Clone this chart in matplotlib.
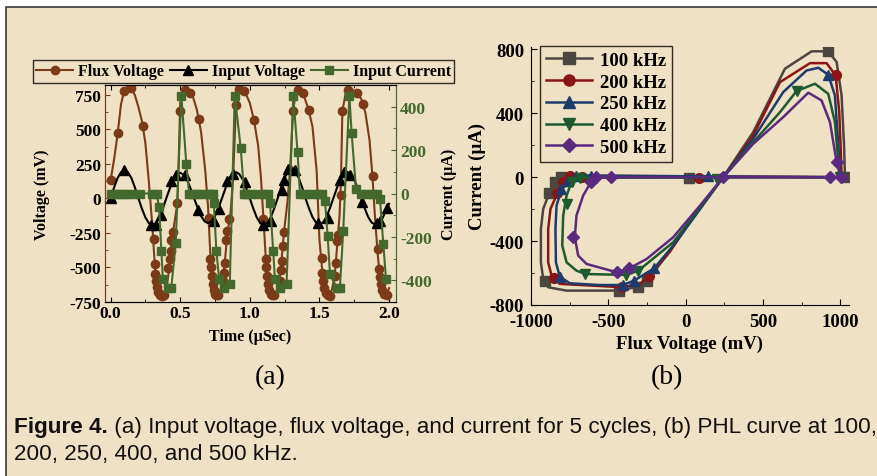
import matplotlib

matplotlib.use("Agg")
import matplotlib.pyplot as plt
from matplotlib.lines import Line2D
from matplotlib.patches import Rectangle
from matplotlib.ticker import AutoMinorLocator

plt.rcParams["axes.unicode_minus"] = False
plt.rcParams["font.family"] = ["Liberation Serif", "DejaVu Serif"]
plt.rcParams["font.weight"] = "bold"

# ---------------- panel (a): time traces ----------------
flux_line_t = [0.000, 0.025, 0.050, 0.075, 0.100, 0.125, 0.150, 0.175, 0.200, 0.225,
               0.250, 0.275, 0.300, 0.320, 0.340, 0.360, 0.380, 0.400, 0.420, 0.440,
               0.460, 0.480, 0.490, 0.500, 0.515, 0.535, 0.560, 0.590, 0.620, 0.650,
               0.680, 0.700, 0.720, 0.740, 0.760, 0.780, 0.800, 0.820, 0.840, 0.860,
               0.880, 0.900, 0.920, 0.945, 0.970, 1.000, 1.030, 1.060, 1.080, 1.100,
               1.120, 1.140, 1.160, 1.180, 1.200, 1.220, 1.245, 1.270, 1.290, 1.310,
               1.330, 1.350, 1.380, 1.420, 1.450, 1.480, 1.500, 1.520, 1.545, 1.570,
               1.590, 1.610, 1.630, 1.645, 1.655, 1.665, 1.690, 1.720, 1.760, 1.800,
               1.830, 1.860, 1.880, 1.900, 1.920, 1.940, 1.960, 1.980, 2.000]
flux_line_v = [130, 280, 460, 680, 790, 810, 800, 745, 660, 560,
               400, 120, -200, -520, -670, -705, -700, -660, -520, -290,
               -170, -31, 300, 690, 770, 790, 775, 740, 640, 480,
               200, -60, -480, -665, -705, -695, -620, -470, -240, -130,
               150, 650, 785, 795, 760, 690, 566, 380, 150, -180,
               -520, -670, -705, -700, -650, -540, -246, -30, 220, 620,
               770, 790, 765, 650, 520, 200, -300, -520, -685, -705,
               -660, -560, -310, -120, 150, 630, 770, 795, 770, 720,
               620, 420, 170, -150, -420, -620, -690, -705, -650]
flux_mark_t = [0.000, 0.053, 0.094, 0.149, 0.233, 0.309, 0.317, 0.322, 0.327, 0.333,
               0.342, 0.355, 0.368, 0.382, 0.412, 0.424, 0.432, 0.436, 0.448, 0.480,
               0.496, 0.532, 0.573, 0.633, 0.705, 0.717, 0.722, 0.727, 0.733, 0.740,
               0.748, 0.760, 0.772, 0.808, 0.815, 0.824, 0.832, 0.839, 0.851, 0.904,
               0.921, 0.959, 1.031, 1.096, 1.113, 1.118, 1.125, 1.132, 1.140, 1.149,
               1.162, 1.175, 1.215, 1.225, 1.232, 1.240, 1.245, 1.288, 1.312, 1.343,
               1.384, 1.424, 1.516, 1.521, 1.528, 1.535, 1.547, 1.560, 1.576, 1.610,
               1.618, 1.628, 1.635, 1.652, 1.664, 1.707, 1.767, 1.815, 1.882, 1.918,
               1.925, 1.932, 1.940, 1.950, 1.964, 1.985]
flux_mark_v = [130, 470, 776, 800, 521, -294, -473, -549, -600, -640,
               -675, -700, -705, -700, -502, -442, -382, -300, -246, -31,
               633, 781, 760, 573, -143, -442, -500, -560, -620, -660,
               -693, -700, -700, -600, -540, -470, -300, -239, -150, 676,
               788, 776, 566, -150, -442, -500, -560, -620, -660, -693,
               -700, -700, -600, -520, -450, -346, -246, 203, 633, 783,
               760, 638, -435, -537, -600, -650, -688, -700, -705, -560,
               -470, -310, -263, 24, 633, 783, 760, 681, 162, -370,
               -513, -569, -620, -660, -693, -700]

vin_line_t = [i * 0.025 for i in range(81)]
vin_line_v = [0, 78, 146, 189, 205, 189, 146, 78, 0,
              -75, -138, -180, -195, -180, -138, -75, 0,
              70, 131, 170, 185, 170, 131, 70, 0,
              -68, -128, -166, -180, -166, -128, -68, 0,
              72, 135, 175, 190, 175, 135, 72, 0,
              -74, -138, -180, -195, -180, -138, -74, 0,
              81, 150, 195, 212, 195, 150, 81, 0,
              -72, -135, -175, -190, -175, -135, -72, 0,
              73, 136, 177, 192, 177, 136, 73, 0,
              -72, -135, -175, -190, -180, -150, -95, -40]
vin_mark_t = [0.000, 0.094, 0.293, 0.329, 0.360, 0.436, 0.472, 0.532, 0.628, 0.741,
              0.779, 0.839, 0.880, 0.964, 1.096, 1.149, 1.228, 1.247, 1.276, 1.324,
              1.492, 1.564, 1.647, 1.679, 1.720, 1.803, 1.916, 1.935, 1.983]
vin_mark_v = [0, 203, -191, -196, -119, 124, 172, 167, -84, -167,
              -76, 124, 179, 119, -191, -167, 60, 131, 215, 208,
              -179, -143, 131, 191, 167, -24, -179, -167, -67]

cur_t = [0.000, 0.030, 0.060, 0.090, 0.120, 0.160, 0.210, 0.300, 0.330, 0.348,
         0.365, 0.376, 0.412, 0.436, 0.468, 0.508, 0.544, 0.564, 0.590, 0.620,
         0.650, 0.700, 0.720, 0.735, 0.741, 0.760, 0.779, 0.813, 0.856, 0.892,
         0.935, 0.959, 0.975, 1.010, 1.060, 1.100, 1.130, 1.145, 1.168, 1.180,
         1.216, 1.264, 1.312, 1.343, 1.360, 1.395, 1.440, 1.490, 1.520, 1.540,
         1.559, 1.576, 1.624, 1.647, 1.671, 1.715, 1.731, 1.763, 1.800, 1.840,
         1.875, 1.910, 1.935, 1.959, 1.978]
cur_i = [0, 0, 0, 0, 0, 0, 0, 0, 0, -60,
         -265, -395, -434, -434, -229, 451, 138, 0, 0, 0,
         0, 0, 0, 0, -42, -265, -392, -434, -418, 451,
         209, 0, 0, 0, 0, 0, 0, -42, -265, -392,
         -434, -418, 451, 189, 0, 0, 0, 0, 0, -34,
         -195, -372, -434, -434, -172, 451, 281, 20, 0, 0,
         0, 0, -26, -234, -392]

# ---------------- panel (b): PHL loops ----------------
f100_line_v = [1029, -803, -846, -882, -921, -936, -936, -921, -889, -770, -430, -307,
               -253, -124, 48, 242, 436, 641, 814, 921, 975, 1007, 1023, 1029]
f100_line_i = [0, 4, -31, -100, -198, -324, -533, -637, -689, -710, -710, -685,
               -652, -491, -240, 0, 282, 679, 788, 788, 721, 512, 198, 0]
f100_mark_v = [921, 1035, 18, -803, -846, -882, -910, -430, -307, -253]
f100_mark_i = [788, 0, -6, 4, -31, -100, -652, -710, -685, -652]

f200_line_v = [1007, -749, -792, -829, -874, -889, -889, -867, -814, -598, -411, -296,
               -236, -102, 48, 242, 436, 609, 803, 910, 969, 992, 1003, 1007]
f200_line_i = [0, 10, -27, -100, -198, -324, -533, -616, -668, -679, -689, -668,
               -616, -466, -251, 0, 261, 595, 714, 714, 637, 407, 136, 0]
f200_mark_v = [969, 87, -669, -749, -792, -829, -850, -411, -236]
f200_mark_i = [637, -4, 4, 10, -27, -100, -633, -689, -616]

f250_line_v = [997, -706, -760, -803, -835, -842, -839, -814, -749, -555, -408, -335,
               -204, -81, 70, 242, 436, 630, 781, 857, 921, 964, 986, 997]
f250_line_i = [0, 10, -21, -77, -178, -324, -533, -623, -664, -675, -675, -648,
               -570, -428, -230, 0, 240, 533, 668, 685, 641, 512, 198, 0]
f250_mark_v = [921, 145, -613, -706, -760, -803, -814, -408, -335, -204]
f250_mark_i = [641, 10, 10, 10, -21, -77, -623, -675, -648, -570]

f400_line_v = [992, -684, -738, -770, -792, -798, -770, -706, -648, -383, -307, -253,
               -81, 70, 242, 436, 609, 716, 835, 921, 964, 986, 992]
f400_line_i = [0, -4, -31, -115, -240, -428, -533, -585, -606, -612, -585, -543,
               -407, -219, 0, 219, 407, 539, 585, 522, 345, 94, 0]
f400_mark_v = [716, 997, 199, -684, -738, -770, -648, -383, -307]
f400_mark_i = [539, 0, -10, -4, -31, -167, -606, -612, -585]

f500_line_v = [1003, -484, -577, -613, -663, -706, -717, -695, -641, -447, -365, -253,
               -81, 92, 242, 436, 630, 792, 878, 932, 975, 1003]
f500_line_i = [0, 0, 0, -31, -115, -240, -376, -491, -543, -595, -570, -512,
               -376, -178, 0, 209, 376, 529, 480, 345, 94, 0]
f500_mark_v = [975, 932, 1003, 242, -484, -577, -613, -727, -447, -365]
f500_mark_i = [94, 0, 0, 0, 0, 0, -31, -376, -595, -570]

freq_labels = ["100 kHz", "200 kHz", "250 kHz", "400 kHz", "500 kHz"]

BG = "#efe1c3"
BROWN = "#7b3a18"
GREEN = "#436a2c"
W, H = 877, 477


def frac(x0, y0, x1, y1):
    return [x0 / W, 1 - y1 / H, (x1 - x0) / W, (y1 - y0) / H]


fig = plt.figure(figsize=(W / 100, H / 100), dpi=100, facecolor="white")
fig.add_artist(Rectangle((6 / W, -0.1), 1.2, 1 - 7.5 / H + 0.1, transform=fig.transFigure,
                         facecolor=BG, edgecolor="#3a3a3a", linewidth=1.2, zorder=-10))

# ---- panel (a)
ax_a = fig.add_axes(frac(105, 86, 396, 303))
ax_a.set_facecolor("none")
ax_a.plot(flux_line_t, flux_line_v, color=BROWN, lw=1.5)
ax_a.plot(flux_mark_t, flux_mark_v, "o", color=BROWN, ms=6)
ax_a.plot(vin_line_t, vin_line_v, color="black", lw=1.5)
ax_a.plot(vin_mark_t, vin_mark_v, "^", color="black", ms=6.5)
ax_a.set_xlim(-0.04, 2.05)
ax_a.set_ylim(-750, 820)
ax_a.set_xticks([0, 0.5, 1.0, 1.5, 2.0])
ax_a.set_yticks([-750, -500, -250, 0, 250, 500, 750])
ax_a.xaxis.set_minor_locator(AutoMinorLocator(2))
ax_a.yaxis.set_minor_locator(AutoMinorLocator(2))
ax_a.tick_params(which="both", direction="in", top=True, labelsize=12.5)
ax_a.tick_params(which="major", length=3.5)
ax_a.tick_params(which="minor", length=2)
ax_a.tick_params(axis="y", which="both", color=BROWN, pad=3)
ax_a.tick_params(axis="x", pad=2)
ax_a.spines["left"].set_color(BROWN)
ax_a.spines["right"].set_color(GREEN)
ax_a.set_xlabel("Time (µSec)", fontsize=11.5, fontweight="bold")
ax_a.set_ylabel("Voltage (mV)", fontsize=11.5, fontweight="bold")
ax_a.xaxis.set_label_coords(0.5, -0.12)
ax_a.yaxis.set_label_coords(-0.19, 0.5)

ax_c = ax_a.twinx()
ax_c.plot(cur_t, cur_i, "-s", color=GREEN, lw=1.5, ms=5.5)
ax_c.set_ylim(-500, 500)
ax_c.set_yticks([-400, -200, 0, 200, 400])
ax_c.yaxis.set_minor_locator(AutoMinorLocator(2))
ax_c.tick_params(which="both", direction="in", color=GREEN, labelcolor=GREEN, labelsize=12.5,
                 pad=3)
ax_c.tick_params(which="major", length=3.5)
ax_c.tick_params(which="minor", length=2)
ax_c.spines["right"].set_color(GREEN)
ax_c.spines["left"].set_color(BROWN)
ax_c.set_ylabel("Current (µA)", fontsize=11.5, fontweight="bold")
ax_c.yaxis.set_label_coords(1.155, 0.5)

handles_a = [
    Line2D([], [], color=BROWN, marker="o", ms=6, lw=1.5),
    Line2D([], [], color="black", marker="^", ms=6.5, lw=1.5),
    Line2D([], [], color=GREEN, marker="s", ms=5.5, lw=1.5),
]
leg_a = fig.legend(handles_a, ["Flux Voltage", "Input Voltage", "Input Current"],
                   loc="center", bbox_to_anchor=((33 + 454) / 2 / W, 1 - 72.5 / H),
                   ncol=3, fancybox=False, edgecolor="black", facecolor="none",
                   prop=dict(family="Liberation Serif", weight="bold", size=11.5),
                   handlelength=2.3, handletextpad=0.3, columnspacing=0.4,
                   borderpad=0.2, borderaxespad=0, numpoints=1)
leg_a.get_frame().set_linewidth(1.0)

# ---- panel (b)
ax_b = fig.add_axes(frac(531, 48, 849, 306))
ax_b.set_facecolor("none")
series_b = [
    (f100_line_v, f100_line_i, f100_mark_v, f100_mark_i, "#4b4640", "s"),
    (f200_line_v, f200_line_i, f200_mark_v, f200_mark_i, "#8b1515", "o"),
    (f250_line_v, f250_line_i, f250_mark_v, f250_mark_i, "#1e3b6e", "^"),
    (f400_line_v, f400_line_i, f400_mark_v, f400_mark_i, "#1d5a30", "v"),
    (f500_line_v, f500_line_i, f500_mark_v, f500_mark_i, "#5a2a80", "D"),
]
handles_b = []
for lv, li, mv, mi, col, mk in series_b:
    ax_b.plot(lv, li, color=col, lw=1.8)
    ms = 6 if mk == "D" else 7
    ax_b.plot(mv, mi, mk, color=col, ms=ms)
    handles_b.append(Line2D([], [], color=col, marker=mk, ms=ms + 1, lw=1.8))
ax_b.set_xlim(-1000, 1055)
ax_b.set_ylim(-800, 815)
ax_b.set_xticks([-1000, -500, 0, 500, 1000])
ax_b.set_yticks([-800, -400, 0, 400, 800])
ax_b.xaxis.set_minor_locator(AutoMinorLocator(2))
ax_b.yaxis.set_minor_locator(AutoMinorLocator(2))
ax_b.spines["top"].set_visible(False)
ax_b.spines["right"].set_visible(False)
ax_b.tick_params(which="both", direction="in", labelsize=13.5)
ax_b.tick_params(which="major", length=4)
ax_b.tick_params(which="minor", length=2)
ax_b.tick_params(axis="x", pad=6)
ax_b.tick_params(axis="y", pad=5)
ax_b.set_xlabel("Flux Voltage (mV)", fontsize=13.5, fontweight="bold")
ax_b.set_ylabel("Current (µA)", fontsize=13.5, fontweight="bold")
ax_b.xaxis.set_label_coords(0.5, -0.115)
ax_b.yaxis.set_label_coords(-0.14, 0.5)
leg_b = ax_b.legend(handles_b, freq_labels, loc="upper left", bbox_to_anchor=(0.028, 1.004),
                    fancybox=False, edgecolor="black", facecolor="none",
                    prop=dict(family="Liberation Serif", weight="bold", size=13.5),
                    handlelength=2.5, handletextpad=0.4, labelspacing=0.25,
                    borderpad=0.3, borderaxespad=0, numpoints=1)
leg_b.get_frame().set_linewidth(1.0)

# ---- sub-labels and caption
fig.text(270 / W, 1 - 378 / H, "(a)", ha="center", va="center", fontsize=20,
         family="Liberation Serif", fontweight="normal")
fig.text(667 / W, 1 - 378 / H, "(b)", ha="center", va="center", fontsize=20,
         family="Liberation Serif", fontweight="normal")

cap_size = 13.0
t1 = fig.text(14 / W, 1 - 428 / H, "Figure 4.", ha="left", va="center", fontsize=cap_size,
              family="Liberation Sans", fontweight="bold", color="#111111")
t2 = fig.text(0, 1 - 428 / H,
              " (a) Input voltage, flux voltage, and current for 5 cycles, (b) PHL curve at 100,",
              ha="left", va="center", fontsize=cap_size, family="Liberation Sans",
              fontweight="normal", color="#111111")
t3 = fig.text(14 / W, 1 - 455 / H, "200, 250, 400, and 500 kHz.", ha="left", va="center",
              fontsize=cap_size, family="Liberation Sans", fontweight="normal", color="#111111")

# fit caption line to the reference width
renderer = fig.canvas.get_renderer()
w1 = t1.get_window_extent(renderer).width
w2 = t2.get_window_extent(renderer).width
scale = (872 - 14) / (w1 + w2)
for t in (t1, t2, t3):
    t.set_fontsize(cap_size * scale)
w1 = t1.get_window_extent(renderer).width
t2.set_x((14 + w1) / W)

fig.savefig("out.png", dpi=100, facecolor="white")
